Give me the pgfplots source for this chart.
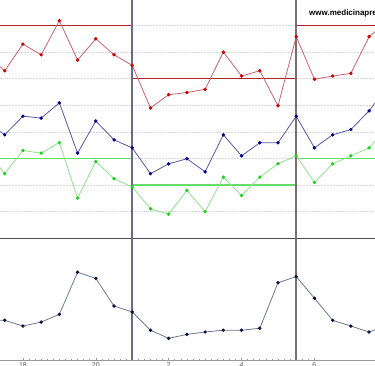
\documentclass[border=0pt]{standalone}
\usepackage{pgfplots}
\pgfplotsset{compat=1.18}
\usepackage{fontspec}
\setmainfont{Liberation Sans}
\definecolor{redline}{HTML}{D0606E}
\definecolor{redmark}{HTML}{CC0000}
\definecolor{redlim}{HTML}{B0202A}
\definecolor{blueline}{HTML}{5858A8}
\definecolor{bluemark}{HTML}{00008B}
\definecolor{greenline}{HTML}{8EE08E}
\definecolor{greenmark}{HTML}{22D022}
\definecolor{greenlim}{HTML}{66DD66}
\definecolor{lowline}{HTML}{6A7A8A}
\definecolor{lowmark}{HTML}{101040}
\definecolor{divA}{HTML}{6A6A8C}
\definecolor{divB}{HTML}{7A6E6E}
\definecolor{gridc}{HTML}{D6D6D6}
\pgfplotsset{
  common/.style={
    scale only axis, width=375pt,
    xmin=-0.258, xmax=20.324,
    grid style={gridc, dash pattern=on 2pt off 1pt, line width=0.7pt},
    ymajorgrids,
    yticklabels={}, major tick length=0pt,
    /pgf/number format/assume math mode=true,
  },
  ser/.style={line width=0.8pt, mark=*, mark size=1.3pt},
}
\pgfplotstableread{
k  red    blue   green  low
-1 138.8  113.8  102.9  58.8
0  133.0  108.9  94.3   58.7
1  143.0  115.9  103.0  55.8
2  139.0  115.2  102.0  57.8
3  151.8  120.9  106.0  61.7
4  137.0  102.0  85.1   82.9
5  145.0  114.1  98.9   79.8
6  139.0  107.0  92.4   65.9
7  135.0  104.0  89.3   62.9
8  119.0  94.3   81.1   53.7
9  124.0  98.0   79.1   49.6
10 124.8  99.9   88.0   51.6
11 126.0  95.0   80.0   52.8
12 140.0  108.9  93.0   53.7
13 131.0  101.0  86.1   53.7
14 133.0  105.9  93.0   54.7
15 119.8  105.9  98.0   77.6
16 145.8  115.9  101.0  80.7
17 129.8  104.0  91.0   69.8
18 131.0  108.9  98.0   58.7
19 132.0  110.9  101.0  55.8
20 145.8  117.9  104.0  52.8
21 151.5  127.0  111.9  56.3
}\datatable
\begin{document}
\begin{tikzpicture}[x=1pt,y=1pt]
% upper panel
\begin{axis}[common,
  at={(0pt,127.7pt)}, anchor=south west,
  height=252.7pt, ymin=70, ymax=165,
  ytick={80,90,...,160}, xtick=\empty,
  axis line style={draw=none},
]
\addplot[redlim, line width=1.3pt] coordinates {(-0.5,150) (7,150)};
\addplot[redlim, line width=1.3pt] coordinates {(7,130) (16,130)};
\addplot[redlim, line width=1.3pt] coordinates {(16,150) (20.5,150)};
\addplot[greenlim, line width=1.8pt] coordinates {(-0.5,100) (7,100)};
\addplot[greenlim, line width=1.8pt] coordinates {(7,90) (16,90)};
\addplot[greenlim, line width=1.8pt] coordinates {(16,100) (20.5,100)};
\addplot[ser, color=greenline, mark options={greenmark}] table[x=k, y=green] {\datatable};
\addplot[ser, color=blueline, mark options={bluemark}] table[x=k, y=blue] {\datatable};
\addplot[ser, color=redline, mark options={redmark}] table[x=k, y=red] {\datatable};
\draw[divA, line width=1.8pt] (axis cs:7,70) -- (axis cs:7,165);
\draw[divB, line width=1.8pt] (axis cs:16,70) -- (axis cs:16,165);
\end{axis}
% lower panel
\begin{axis}[common,
  at={(0pt,6pt)}, anchor=south west,
  height=121.7pt, ymin=38.7, ymax=100,
  ytick={40,50,...,90},
  axis y line=none, axis x line*=bottom,
  axis line style={draw=gray!80, line width=0.9pt, -},
  xtick={1,5,9,13,17},
  xticklabels={18,20,2,4,6},
  minor x tick num=11,
  tick align=center,
  xtick style={gray!80, line width=0.6pt},
  major tick length=3pt, minor tick length=2pt,
  xticklabel style={font=\fontsize{7}{8}\selectfont, text=gray!70!black, yshift=2.5pt},
]
\addplot[ser, color=lowline, mark options={lowmark}] table[x=k, y=low] {\datatable};
\draw[black!70, line width=1.3pt] (rel axis cs:0,1) -- (rel axis cs:1,1);
\draw[divA, line width=1.8pt] (axis cs:7,38.7) -- (axis cs:7,100);
\draw[divB, line width=1.8pt] (axis cs:16,38.7) -- (axis cs:16,100);
\end{axis}
\node[anchor=west, font=\bfseries\fontsize{8}{9}\selectfont, inner sep=0pt] at (309pt,353pt) {www.medicinapreventiva.info};
\pgfresetboundingbox
\useasboundingbox (0,0) rectangle (375pt,366pt);
\end{tikzpicture}
\end{document}
